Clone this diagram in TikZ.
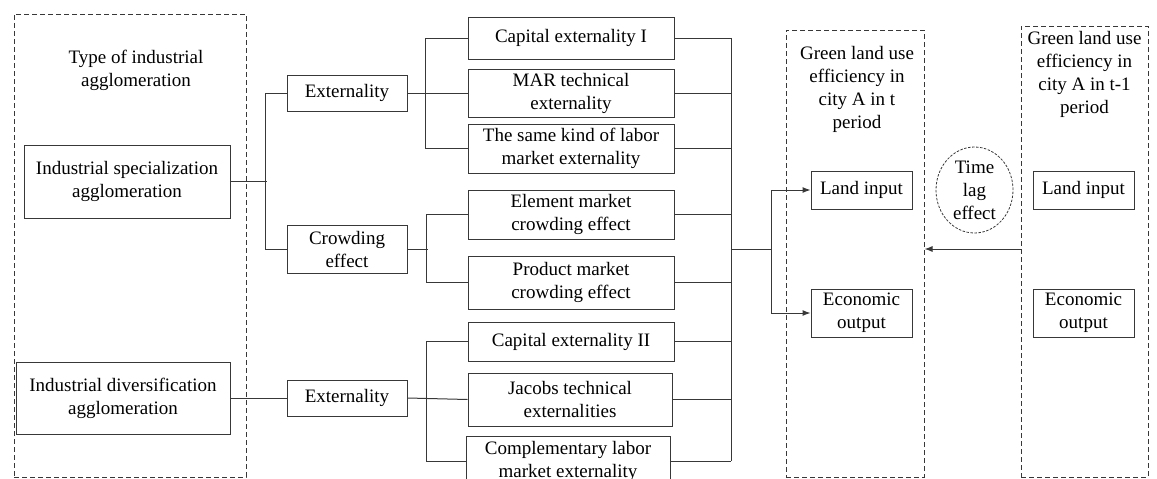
\documentclass[tikz,border=0pt]{standalone}
\usepackage{fontspec}
\setmainfont{Liberation Serif}
\usetikzlibrary{arrows.meta, shapes.geometric, positioning}
\definecolor{linegrey}{rgb}{0.22, 0.22, 0.22}

\begin{document}
\begin{tikzpicture}[x=1pt, y=-1pt]
    \tikzset{
        box/.style = {draw=linegrey, line width=1pt, align=center, inner sep=0pt},
        group/.style = {draw=linegrey, line width=1pt, dash pattern=on 5pt off 3pt},
        conn/.style = {draw=linegrey, line width=1pt},
        arr/.style = {conn, -{Latex[length=8pt, width=6pt]}}
    }
    \useasboundingbox (0,0) rectangle (1157,479);
    \begin{scope}[every node/.style = {font=\fontsize{19}{23}\selectfont}]
        \node[group, minimum width=232, minimum height=463] (grpL) at (130,245.5) {};
        \node[group, minimum width=138, minimum height=447] (grpM) at (855,253.5) {};
        \node[group, minimum width=127, minimum height=451] (grpR) at (1084.5,251.5) {};
        \node[align=center] (titleL) at (136,70) {Type of industrial\\agglomeration};
        \node[align=center] (titleM) at (857,89) {Green land use\\efficiency in\\city A in t\\period};
        \node[align=center] (titleR) at (1084.5,74.5) {Green land use\\efficiency in\\city A in t-1\\period};

        \node[box, minimum width=206, minimum height=73] (spec) at (127,181.5) {Industrial specialization\\agglomeration};
        \node[box, minimum width=214, minimum height=72] (div) at (123,398) {Industrial diversification\\agglomeration};

        \node[box, minimum width=120, minimum height=36] (ext1) at (347,93) {Externality};
        \node[box, minimum width=120, minimum height=48] (crowd) at (347,249) {Crowding\\effect};
        \node[box, minimum width=120, minimum height=36] (ext3) at (347,398) {Externality};

        \node[box, minimum width=206, minimum height=42] (cap1) at (571,38) {Capital externality I};
        \node[box, minimum width=206, minimum height=48] (mar) at (571,93) {MAR technical\\externality};
        \node[box, minimum width=206, minimum height=49] (same) at (571,148.5) {The same kind of labor\\market externality};
        \node[box, minimum width=206, minimum height=49] (elem) at (571,214.5) {Element market\\crowding effect};
        \node[box, minimum width=206, minimum height=53] (prod) at (571,282.5) {Product market\\crowding effect};
        \node[box, minimum width=206, minimum height=39] (cap2) at (571,341.5) {Capital externality II};
        \node[box, minimum width=204, minimum height=53] (jac) at (570,399.5) {Jacobs technical\\externalities};
        \node[box, minimum width=204, minimum height=50] (comp) at (568,461) {Complementary labor\\market externality};

        \node[box, minimum width=101, minimum height=38] (land) at (861.5,190) {Land input};
        \node[box, minimum width=101, minimum height=48] (econ) at (861.5,313) {Economic\\output};
        \node[box, minimum width=101, minimum height=38] (landR) at (1083.5,190) {Land input};
        \node[box, minimum width=101, minimum height=48] (econR) at (1083.5,313) {Economic\\output};
        \node[draw=linegrey, line width=0.8pt, dash pattern=on 2.5pt off 1.5pt, ellipse, inner sep=0pt,
              minimum width=77, minimum height=86, align=center] (lag) at (974.5,190) {Time\\lag\\effect};

        \draw[conn] (spec.east) -- ++(36,0);
        \draw[conn] (ext1.west) -- ++(-21,0) |- (crowd.west);
        \draw[conn] (div.east) -- (ext3.west);

        \draw[conn] (cap1.west) -- ++(-42,0) |- (same.west);
        \draw[conn] (ext1.east) -- (mar.west);
        \draw[conn] (elem.west) -- ++(-41,0) |- (prod.west);
        \draw[conn] (crowd.east) -- ++(20,0);
        \draw[conn] (cap2.west) -- ++(-41,0) |- (comp.west);
        \draw[conn] (ext3.east) -- (jac.west);

        \coordinate (r) at (731,249);
        \foreach \n in {cap1, mar, same, elem, prod, cap2, jac, comp}{
            \draw[conn] (\n.east) -- (\n.east -| r);
        }
        \draw[conn] (cap1.east -| r) -- (comp.east -| r);
        \draw[conn] (r) -- ++(40,0) coordinate (j);
        \draw[arr] (j) |- (land.west);
        \draw[arr] (j) |- (econ.west);

        \draw[arr] (grpR.west |- r) -- (grpM.east |- r);
    \end{scope}
\end{tikzpicture}
\end{document}
